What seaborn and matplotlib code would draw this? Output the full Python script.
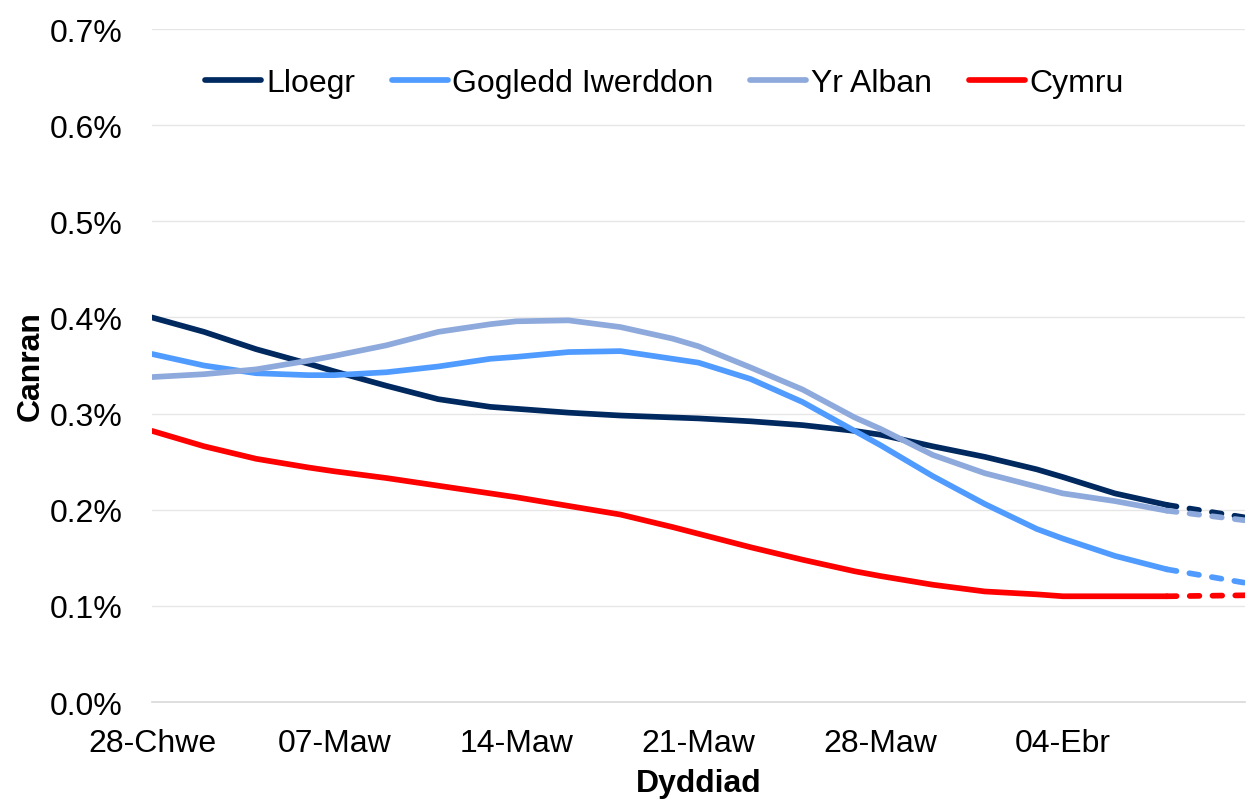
import matplotlib
matplotlib.use("Agg")
import matplotlib.pyplot as plt
import seaborn as sns
import pandas as pd

# ---- data (percent) ----
start_date = "2020-02-28"
days = [0, 2, 4, 6, 7, 9, 11, 13, 14, 16, 18, 20, 21, 23, 25, 27, 28, 30, 32, 34, 35, 37, 39]
proj_days = [39, 42]

lloegr = [0.400, 0.385, 0.367, 0.352, 0.344, 0.329, 0.315, 0.307, 0.305, 0.301, 0.298, 0.296,
          0.295, 0.292, 0.288, 0.282, 0.278, 0.266, 0.255, 0.242, 0.234, 0.217, 0.205]
gogledd = [0.362, 0.350, 0.342, 0.340, 0.340, 0.343, 0.349, 0.357, 0.359, 0.364, 0.365, 0.357,
           0.353, 0.336, 0.312, 0.282, 0.267, 0.235, 0.206, 0.180, 0.170, 0.152, 0.138]
alban = [0.338, 0.341, 0.346, 0.355, 0.360, 0.371, 0.385, 0.393, 0.396, 0.397, 0.390, 0.378,
         0.370, 0.348, 0.325, 0.296, 0.284, 0.257, 0.238, 0.224, 0.217, 0.209, 0.199]
cymru = [0.282, 0.266, 0.253, 0.244, 0.240, 0.233, 0.225, 0.217, 0.213, 0.204, 0.195, 0.182,
         0.175, 0.161, 0.148, 0.136, 0.131, 0.122, 0.115, 0.112, 0.110, 0.110, 0.110]

lloegr_proj = [0.205, 0.192]
gogledd_proj = [0.138, 0.124]
alban_proj = [0.199, 0.189]
cymru_proj = [0.110, 0.111]

series_names = ["Lloegr", "Gogledd Iwerddon", "Yr Alban", "Cymru"]
colors = ["#002960", "#4F9BFF", "#8EA9DB", "#FF0000"]

tick_days = [0, 7, 14, 21, 28, 35]
tick_labels = ["28-Chwe", "07-Maw", "14-Maw", "21-Maw", "28-Maw", "04-Ebr"]
y_ticks = [0.0, 0.1, 0.2, 0.3, 0.4, 0.5, 0.6, 0.7]

x_title = "Dyddiad"
y_title = "Canran"

# ---- build frames ----
t0 = pd.Timestamp(start_date)
solid = []
for name, vals in zip(series_names, [lloegr, gogledd, alban, cymru]):
    for d, v in zip(days, vals):
        solid.append({"date": t0 + pd.Timedelta(days=d), "value": v, "series": name})
solid = pd.DataFrame(solid)
proj = []
for name, vals in zip(series_names, [lloegr_proj, gogledd_proj, alban_proj, cymru_proj]):
    for d, v in zip(proj_days, vals):
        proj.append({"date": t0 + pd.Timedelta(days=d), "value": v, "series": name})
proj = pd.DataFrame(proj)

sns.set_style("white")
plt.rcParams["font.family"] = ["Liberation Sans", "DejaVu Sans"]
plt.rcParams["text.color"] = "black"
plt.rcParams["axes.labelcolor"] = "black"
plt.rcParams["xtick.labelcolor"] = "black"
plt.rcParams["ytick.labelcolor"] = "black"

fig = plt.figure(figsize=(12.48, 8.03), dpi=100)
ax = fig.add_axes([0.1218, 0.1245, 0.8758, 0.8381])

LW = 4.1
palette = dict(zip(series_names, colors))
sns.lineplot(data=solid, x="date", y="value", hue="series", hue_order=series_names,
             palette=palette, linewidth=LW, ax=ax, legend=False,
             solid_capstyle="round", solid_joinstyle="round")
n_solid = len(ax.get_lines())
sns.lineplot(data=proj, x="date", y="value", hue="series", hue_order=series_names,
             palette=palette, linewidth=LW, ax=ax, legend=False)
solid_lines = ax.get_lines()[:n_solid]
for ln in ax.get_lines()[n_solid:]:
    ln.set_linestyle((0, (1.7, 2.3)))
    ln.set_dash_capstyle("round")

ax.set_xlim(t0, t0 + pd.Timedelta(days=42))
ax.set_ylim(0, 0.7)
ax.set_yticks(y_ticks)
ax.set_yticklabels([f"{v:.1f}%" for v in y_ticks])
ax.set_xticks([t0 + pd.Timedelta(days=d) for d in tick_days])
ax.set_xticklabels(tick_labels)
ax.tick_params(axis="y", labelsize=23, length=0, pad=21)
ax.tick_params(axis="x", labelsize=23, length=8, width=1.2, color="#D9D9D9", pad=11, direction="out")
ax.yaxis.grid(True, color="#E6E6E6", linewidth=1)
ax.xaxis.grid(False)
for s in ["top", "right", "left"]:
    ax.spines[s].set_visible(False)
ax.spines["bottom"].set_color("#D9D9D9")
ax.spines["bottom"].set_linewidth(1.2)

ax.set_xlabel(x_title, fontsize=23, fontweight="bold", labelpad=7)
ax.set_ylabel(y_title, fontsize=23, fontweight="bold", labelpad=3)

leg = ax.legend(solid_lines, series_names, loc="center", bbox_to_anchor=(0.469, 0.92), ncol=4,
                frameon=False, fontsize=23, handlelength=1.75, handletextpad=0.15,
                columnspacing=1.15)
for lh in leg.get_lines():
    lh.set_linewidth(LW)
    lh.set_solid_capstyle("round")

fig.savefig("out.png", dpi=100)
